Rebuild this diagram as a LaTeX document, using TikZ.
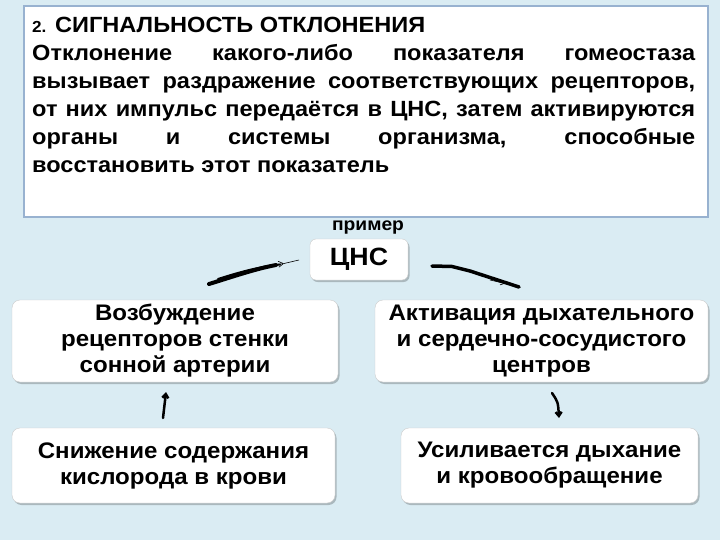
\documentclass[tikz,border=0pt]{standalone}
\usepackage{fontspec}
\setmainfont[FakeStretch=1.07]{Liberation Sans}
\usepackage{tikz}
\usepackage{xcolor}
\usetikzlibrary{arrows.meta, shadows, calc}
\setlength{\parindent}{0pt}

\definecolor{bgblue}{RGB}{218,236,243}
\definecolor{frameblue}{RGB}{152,178,208}

\tikzset{
  card/.style={draw=gray!40, fill=white, rounded corners=8pt, inner sep=0pt,
    align=center, font=\bfseries\fontsize{22.5}{26}\selectfont,
    drop shadow={shadow xshift=1.5pt, shadow yshift=-2pt, fill=black, opacity=0.22}},
  handline/.style={line width=#1, line cap=round, line join=round},
  handline/.default=3pt
}

\begin{document}
\begin{tikzpicture}[x=1pt, y=-1pt]
% Background
\fill[bgblue] (0,0) rectangle (720,540);
\useasboundingbox (0,0) rectangle (720,540);

% Definition frame
\draw[frameblue, line width=2.5pt, fill=white] (24,6) rectangle (708,217);
\node[anchor=north west, text width=663pt, align=justify, inner sep=0pt,
  font=\bfseries\fontsize{22}{28}\selectfont] (defn) at (32,16.5)
  {{\fontsize{16}{28}\selectfont 2.} СИГНАЛЬНОСТЬ ОТКЛОНЕНИЯ\par
  Отклонение какого-либо показателя гомеостаза\linebreak
  вызывает раздражение соответствующих рецепторов,\linebreak
  от них импульс передаётся в ЦНС, затем активируются\linebreak
  органы и системы организма, способные\linebreak
  восстановить этот показатель\par};
\node[font=\bfseries\fontsize{18}{20}\selectfont, inner sep=0pt, anchor=base] (example) at (368,230.5) {пример};

% Scheme
\node[card, rounded corners=6pt, minimum width=98pt, minimum height=41pt,
  font=\bfseries\fontsize{25}{26}\selectfont] (cns) at (359,259.5) {ЦНС};
\node[card, minimum width=326pt, minimum height=82pt] (recept) at (175,341)
  {Возбуждение\\ рецепторов стенки\\ сонной артерии};
\node[card, minimum width=333pt, minimum height=82pt] (centres) at (541.5,341)
  {Активация дыхательного\\ и сердечно-сосудистого\\ центров};
\node[card, minimum width=323pt, minimum height=75pt] (oxygen) at (173.5,465.5)
  {Снижение содержания\\ кислорода в крови};
\node[card, minimum width=297pt, minimum height=75pt] (breath) at (549.5,465.5)
  {Усиливается дыхание\\ и кровообращение};

% Hand-drawn arrows
\coordinate (l0) at (209,284);
\coordinate (l1) at (284,263.5);
\coordinate (l2) at (299,260);
\draw[handline=4pt] (l0) .. controls (235,276) and (255,269) .. (276,265);
\draw[handline=2pt] (218,279) .. controls (240,272) and (258,267) .. (280,264.5);
\draw[semithick, -{Straight Barb[length=5pt, width=6pt]}] (262,266.5) -- (l1);
\draw[semithick] (l1) -- (l2);

\coordinate (r0) at (432,266);
\coordinate (r1) at (519,287);
\draw[handline=3.5pt] (r0) -- (452,266.5) -- (470,271) -- (r1);
\draw[semithick, -{Straight Barb[length=4pt, width=5pt]}] (490,280) -- (505,283.5);

\coordinate (u0) at (163,418);
\coordinate (u1) at (166,392);
\draw[handline=2.5pt, -{Straight Barb[length=4pt, width=6pt]}] (u0) -- (u1);

\coordinate (d0) at (552,393);
\coordinate (d1) at (559,418);
\draw[handline=2.5pt, -{Straight Barb[length=4pt, width=6pt]}]
  (d0) .. controls (558,402) .. (d1);
\end{tikzpicture}
\end{document}
